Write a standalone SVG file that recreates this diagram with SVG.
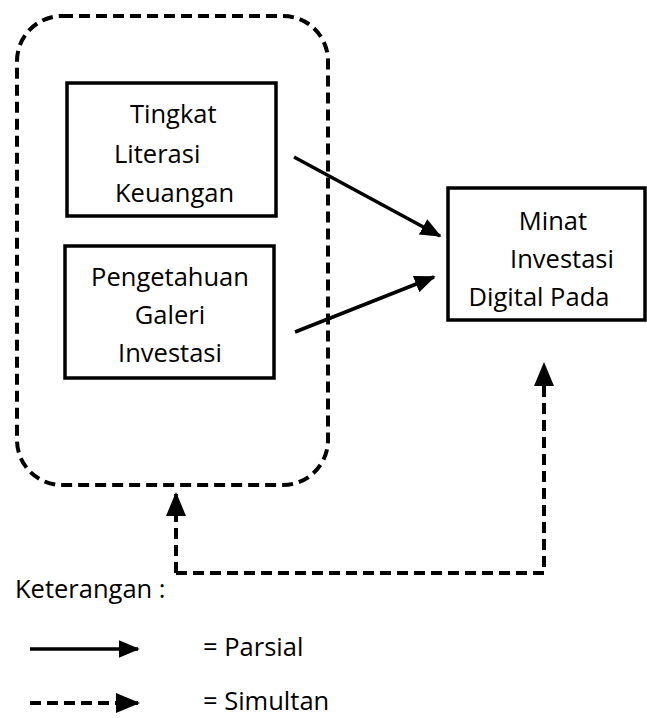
<svg xmlns="http://www.w3.org/2000/svg" width="647" height="718" viewBox="0 0 647 718">
<style>
.t{font-family:"Open Sans","Liberation Sans",sans-serif;font-size:25.5px;fill:#000}
.box{fill:#fff;stroke:#000;stroke-width:3.5}
.dash{fill:none;stroke:#000;stroke-width:4;stroke-dasharray:11 6}
.solid{fill:none;stroke:#000;stroke-width:3.5}
</style>
<defs>
<marker id="ah" markerWidth="6" markerHeight="5" refX="5.5" refY="2.5" orient="auto" markerUnits="strokeWidth">
<path d="M0,0 L6,2.5 L0,5 Z" fill="#000"/>
</marker>
</defs>
<g id="group-box">
<rect x="17" y="16" width="311" height="469" rx="45" ry="45" class="dash"/>
</g>
<g id="node-literasi">
<rect x="67" y="83" width="209" height="133" class="box"/>
<text class="t" x="130" y="123">Tingkat</text>
<text class="t" x="114" y="163">Literasi</text>
<text class="t" x="115" y="202">Keuangan</text>
</g>
<g id="node-pengetahuan">
<rect x="65" y="246" width="209" height="132" class="box"/>
<text class="t" x="170" y="286" text-anchor="middle">Pengetahuan</text>
<text class="t" x="170" y="324" text-anchor="middle">Galeri</text>
<text class="t" x="170" y="362" text-anchor="middle">Investasi</text>
</g>
<g id="node-minat">
<rect x="448" y="188" width="197" height="132" class="box"/>
<text class="t" x="553" y="230" text-anchor="middle">Minat</text>
<text class="t" x="562" y="268" text-anchor="middle">Investasi</text>
<text class="t" x="539" y="306" text-anchor="middle">Digital Pada</text>
</g>
<g id="connectors">
<line x1="294" y1="157" x2="440" y2="236" class="solid" marker-end="url(#ah)"/>
<line x1="295" y1="332" x2="434" y2="277" class="solid" marker-end="url(#ah)"/>
<path d="M176,573 L176,494" class="dash" stroke-width="3.5" marker-end="url(#ah)"/>
<path d="M176,573 L544,573 L544,364" class="dash" stroke-width="3.5" marker-end="url(#ah)"/>
</g>
<g id="legend">
<text class="t" x="15" y="598">Keterangan :</text>
<line x1="30" y1="649" x2="138" y2="649" class="solid" marker-end="url(#ah)"/>
<text class="t" x="203" y="656">= Parsial</text>
<line x1="30" y1="703" x2="138" y2="703" class="dash" stroke-width="3.5" stroke-dasharray="13 5" marker-end="url(#ah)"/>
<text class="t" x="203" y="710">= Simultan</text>
</g>
</svg>
